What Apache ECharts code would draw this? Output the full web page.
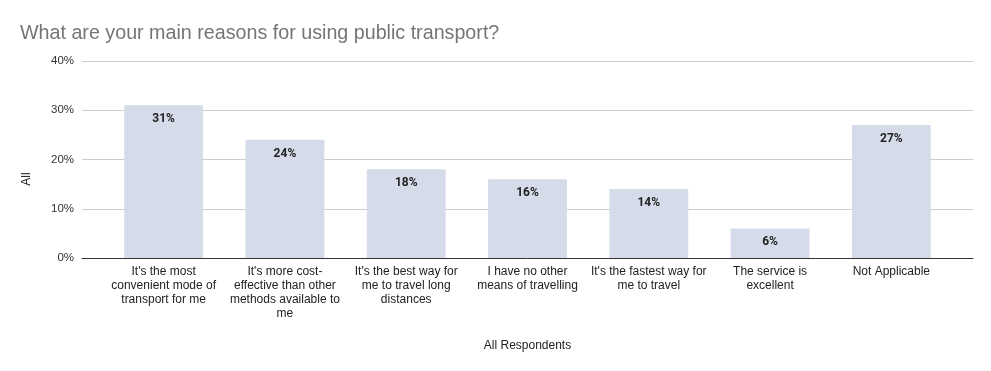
<!DOCTYPE html>
<html><head><meta charset="utf-8">
<script src="https://cdn.jsdelivr.net/npm/echarts@6/dist/echarts.min.js"></script>
<style>html,body{margin:0;padding:0;background:#fff}#c{width:991px;height:371px}</style>
</head><body><div id="c"></div>
<script>
const categories = [
  "It's the most\nconvenient mode of\ntransport for me",
  "It's more cost-\neffective than other\nmethods available to\nme",
  "It's the best way for\nme to travel long\ndistances",
  "I have no other\nmeans of travelling",
  "It's the fastest way for\nme to travel",
  "The service is\nexcellent",
  "Not Applicable"
];
const values = [31, 24, 18, 16, 14, 6, 27];
const yTicks = [0, 10, 20, 30, 40];
const yMin = yTicks[0], yMax = yTicks[yTicks.length - 1];

const chart = echarts.init(document.getElementById('c'));
chart.setOption({
  animation: false,
  title: {
    text: 'What are your main reasons for using public transport?',
    left: 15, top: 19,
    textStyle: { fontFamily: 'Liberation Sans', fontSize: 19.7, fontWeight: 'normal', color: '#757575' }
  },
  graphic: [{
    type: 'text', x: 21, y: 179, rotation: Math.PI / 2,
    style: { text: 'All', fontFamily: 'Liberation Sans', fontSize: 12, fill: '#222', align: 'center', verticalAlign: 'top' }
  }],
  grid: [
    { left: 82, right: 18, top: 61, bottom: 113 },
    { left: 103, right: 39, top: 61, bottom: 113 }
  ],
  xAxis: [{
    gridIndex: 0, type: 'value', min: 0, max: 1, z: 5,
    axisLine: { show: true, onZero: false, lineStyle: { color: '#333', width: 1 } },
    axisTick: { show: false }, axisLabel: { show: false }, splitLine: { show: false }
  }, {
    gridIndex: 1,
    type: 'category',
    data: categories,
    name: 'All Respondents',
    nameLocation: 'middle',
    nameGap: 82,
    nameTextStyle: { fontFamily: 'Liberation Sans', fontSize: 12, color: '#222' },
    axisLine: { show: false },
    axisTick: { show: false },
    axisLabel: { interval: 0, fontFamily: 'Liberation Sans', fontSize: 12, color: '#222', lineHeight: 14, margin: 7 }
  }],
  yAxis: [{
    gridIndex: 0,
    type: 'value',
    min: yMin, max: yMax, interval: 10,
    axisLabel: { formatter: '{value}%', fontFamily: 'Liberation Sans', fontSize: 11.5, color: '#333', margin: 8 },
    splitLine: { lineStyle: { color: '#cccccc' } },
    axisLine: { show: false },
    axisTick: { show: false }
  }, {
    gridIndex: 1,
    type: 'value',
    min: yMin, max: yMax, interval: 10,
    axisLabel: { show: false }, splitLine: { show: false },
    axisLine: { show: false }, axisTick: { show: false }
  }],
  series: [{
    type: 'bar',
    xAxisIndex: 1, yAxisIndex: 1,
    data: values,
    barWidth: '65%',
    itemStyle: { color: '#d5dbe8' },
    label: {
      show: true, position: 'insideTop', distance: 8,
      formatter: '{c}%',
      fontFamily: 'Roboto', fontWeight: 'bold', fontSize: 12, color: '#222'
    }
  }]
});
</script></body></html>
